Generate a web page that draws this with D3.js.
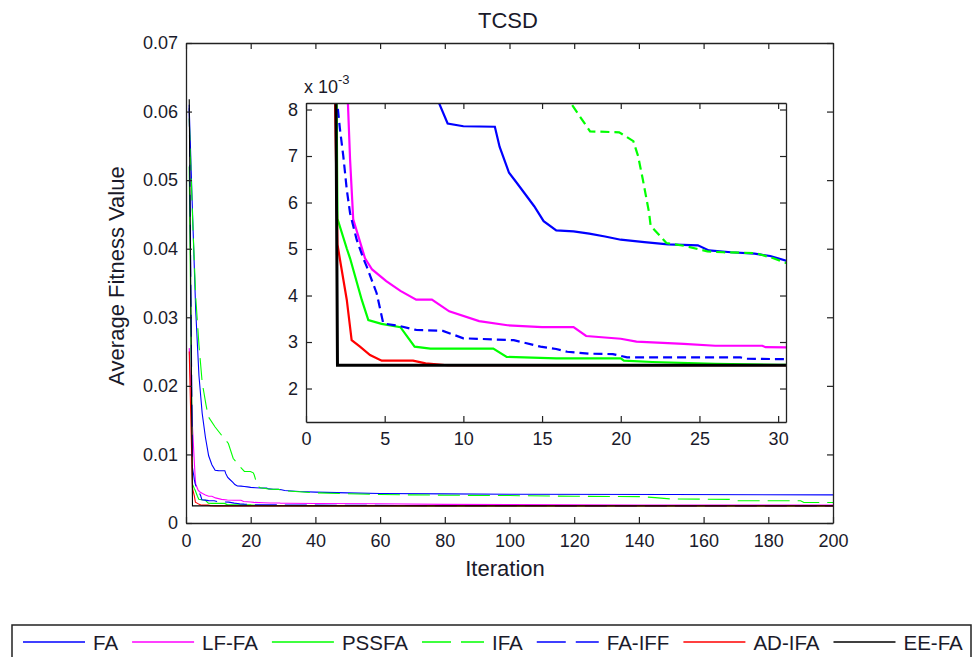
<!DOCTYPE html>
<html>
<head>
<meta charset="utf-8">
<script src="https://cdn.jsdelivr.net/npm/d3@7"></script>
<style>
  body { margin: 0; background: #fff; }
  svg { display: block; font-family: "Liberation Sans", Arial, sans-serif; }
  .axis text { fill: #1a1a2a; }
  .axis path, .axis line { stroke: #222; }
</style>
</head>
<body>
<script>
// values are in units of 1e-3 ([iteration, fitness])
const seriesNames = ['FA', 'LF-FA', 'PSSFA', 'IFA', 'FA-IFF', 'AD-IFA', 'EE-FA'];

const faData = [[1, 60.5], [2, 45.5], [3, 31], [4, 21.5], [5, 16], [6, 12.5], [7, 9.8], [8, 8.5],
  [9, 7.7], [10, 7.64], [12, 7.63], [12.3, 7.2], [12.9, 6.64], [13.4, 6.42], [14.5, 5.92],
  [15.1, 5.6], [15.9, 5.4], [17, 5.38], [18, 5.33], [19, 5.27], [20, 5.2], [21.5, 5.15],
  [23, 5.1], [24.9, 5.08], [25.6, 4.97], [27, 4.93], [28.5, 4.9], [29.5, 4.85], [30.5, 4.75],
  [35, 4.6], [40, 4.5], [50, 4.4], [60, 4.3], [80, 4.25], [100, 4.2], [150, 4.15], [200, 4.1]];

const lffaData = [[1, 25.5], [2, 14], [2.8, 6.93], [3, 5.64], [3.75, 4.8], [4.2, 4.56], [5.1, 4.31],
  [6, 4.1], [7, 3.91], [8, 3.91], [9.1, 3.66], [11, 3.45], [12.8, 3.36], [15, 3.32], [17, 3.32],
  [17.8, 3.13], [20, 3.07], [21, 3.01], [24, 2.96], [26, 2.92], [29, 2.92], [29.2, 2.89],
  [31, 2.88], [40, 2.85], [60, 2.8], [80, 2.72], [100, 2.68], [140, 2.63], [200, 2.6]];

const pssfaData = [[1, 52], [2, 5.65], [2.6, 5.0], [2.8, 4.8], [3.54, 3.91], [3.96, 3.47], [4.8, 3.39],
  [6, 3.32], [6.9, 2.9], [7.9, 2.86], [11.9, 2.86], [12.75, 2.68], [15.9, 2.65], [20, 2.65],
  [20.2, 2.6], [22, 2.57], [26, 2.53], [30, 2.51], [40, 2.5], [200, 2.5]];

const ifaData = [[1, 59], [2, 45], [3, 33], [4, 26], [5, 20.5], [6.2, 17.2], [6.9, 15.5], [9, 14],
  [11, 12.8], [13.1, 11.6], [14.6, 9.4], [16.2, 8.5], [16.9, 8.1], [18.05, 7.53], [19.9, 7.51],
  [20.8, 7.32], [21.1, 7.0], [21.4, 6.5], [21.8, 5.78], [21.9, 5.5], [22.9, 5.13], [24, 5.07],
  [25.5, 4.95], [26.5, 4.93], [28.6, 4.91], [29.7, 4.8], [30.5, 4.7], [40, 4.4], [60, 4.15],
  [80, 4.05], [100, 4.0], [120, 3.9], [140, 3.85], [145, 3.7], [150, 3.5], [168, 3.45],
  [170, 3.25], [190, 3.25], [191, 3.0], [200, 3.0]];

const faiffData = [[1, 61], [2, 8.1], [2.16, 7.57], [2.37, 7.0], [2.59, 6.28], [2.8, 5.77], [3.22, 5.2],
  [3.64, 4.8], [3.86, 4.62], [4.49, 4.05], [4.91, 3.4], [6, 3.34], [7, 3.26], [8.7, 3.24],
  [10, 3.08], [13.2, 3.04], [14.9, 2.9], [15.9, 2.85], [16.6, 2.79], [18, 2.75], [19.5, 2.74],
  [20.4, 2.67], [27.6, 2.67], [28, 2.64], [31, 2.63], [50, 2.58], [80, 2.53], [120, 2.5], [200, 2.5]];

const adifaData = [[1, 25], [2, 5.1], [2.16, 4.77], [2.59, 3.91], [2.9, 3.04], [3.43, 2.9], [4.07, 2.72],
  [4.81, 2.6], [6.8, 2.6], [7.6, 2.54], [9, 2.5], [200, 2.5]];

const eefaData = [[1, 61.8], [2, 2.5], [200, 2.5]];

const mainXTicks = [0, 20, 40, 60, 80, 100, 120, 140, 160, 180, 200];
const mainYTicks = [0, 10, 20, 30, 40, 50, 60, 70];
const insetXTicks = [0, 5, 10, 15, 20, 25, 30];
const insetYTicks = [2, 3, 4, 5, 6, 7, 8];

const colors = ['#0000ff', '#ff00ff', '#00ff00', '#00ff00', '#0000ff', '#ff0000', '#000000'];
const dashed = [false, false, false, true, true, false, false];
const allData = [faData, lffaData, pssfaData, ifaData, faiffData, adifaData, eefaData];

const width = 975;
const height = 657;

const main = { left: 186, right: 833, top: 43, bottom: 523 };
const inset = { left: 306, right: 786, top: 103, bottom: 422 };

const svg = d3.select('body').append('svg')
  .attr('width', width)
  .attr('height', height);

const x = d3.scaleLinear().domain([0, 200]).range([main.left, main.right]);
const y = d3.scaleLinear().domain([0, 70]).range([main.bottom, main.top]);

const xi = d3.scaleLinear().domain([0, 30.5]).range([inset.left, inset.right]);
const yi = d3.scaleLinear().domain([1.28, 8.14]).range([inset.bottom, inset.top]);

const defs = svg.append('defs');
defs.append('clipPath').attr('id', 'clip-main')
  .append('rect')
    .attr('x', main.left).attr('y', main.top)
    .attr('width', main.right - main.left).attr('height', main.bottom - main.top);
defs.append('clipPath').attr('id', 'clip-inset')
  .append('rect')
    .attr('x', inset.left).attr('y', inset.top)
    .attr('width', inset.right - inset.left).attr('height', inset.bottom - inset.top);

// inward ticks on all four sides, labels only bottom and left
function drawAxes(g, sx, sy, xt, yt, fmtY, box, pad) {
  g.append('g').attr('class', 'axis')
    .attr('transform', `translate(0,${box.bottom})`)
    .call(d3.axisBottom(sx).tickValues(xt).tickSize(-6).tickPadding(pad.x).tickSizeOuter(0))
    .call(a => a.selectAll('text').style('font-size', '18px'));
  g.append('g').attr('class', 'axis')
    .attr('transform', `translate(0,${box.top})`)
    .call(d3.axisTop(sx).tickValues(xt).tickSize(-6).tickFormat('').tickSizeOuter(0));
  g.append('g').attr('class', 'axis')
    .attr('transform', `translate(${box.left},0)`)
    .call(d3.axisLeft(sy).tickValues(yt).tickSize(-6).tickPadding(pad.y).tickFormat(fmtY).tickSizeOuter(0))
    .call(a => a.selectAll('text').style('font-size', '18px'));
  g.append('g').attr('class', 'axis')
    .attr('transform', `translate(${box.right},0)`)
    .call(d3.axisRight(sy).tickValues(yt).tickSize(-6).tickFormat('').tickSizeOuter(0));
  g.selectAll('.axis path').attr('stroke-width', 1.3);
  g.selectAll('.axis line').attr('stroke-width', 1.2);
}

const mainG = svg.append('g');
mainG.append('rect')
  .attr('x', main.left).attr('y', main.top)
  .attr('width', main.right - main.left).attr('height', main.bottom - main.top)
  .attr('fill', '#fff');

const lineMain = d3.line().x(d => x(d[0])).y(d => y(d[1]));

mainG.append('g')
  .attr('clip-path', 'url(#clip-main)')
  .selectAll('path')
  .data(allData)
  .join('path')
    .attr('d', lineMain)
    .attr('fill', 'none')
    .attr('stroke', (d, i) => colors[i])
    .attr('stroke-width', 1.1)
    .attr('stroke-dasharray', (d, i) => dashed[i] ? '22,8' : null);

drawAxes(mainG, x, y, mainXTicks, mainYTicks,
  d => d === 0 ? '0' : (d / 1000).toFixed(2), main, { x: 11, y: 8 });

// title and axis labels
svg.append('text')
  .attr('x', 508).attr('y', 28)
  .attr('text-anchor', 'middle')
  .style('font-size', '22px')
  .attr('fill', '#1a1a2a')
  .text('TCSD');

svg.append('text')
  .attr('x', 505).attr('y', 576)
  .attr('text-anchor', 'middle')
  .style('font-size', '22px')
  .attr('fill', '#1a1a2a')
  .text('Iteration');

svg.append('text')
  .attr('transform', 'translate(124,276) rotate(-90)')
  .attr('text-anchor', 'middle')
  .style('font-size', '22px')
  .attr('fill', '#1a1a2a')
  .text('Average Fitness Value');

// inset
const insetG = svg.append('g');
insetG.append('rect')
  .attr('x', inset.left).attr('y', inset.top)
  .attr('width', inset.right - inset.left).attr('height', inset.bottom - inset.top)
  .attr('fill', '#fff');

const lineInset = d3.line().x(d => xi(d[0])).y(d => yi(d[1]));

insetG.append('g')
  .attr('clip-path', 'url(#clip-inset)')
  .selectAll('path')
  .data(allData)
  .join('path')
    .attr('d', lineInset)
    .attr('fill', 'none')
    .attr('stroke', (d, i) => colors[i])
    .attr('stroke-width', (d, i) => i === 6 ? 3 : 2.2)
    .attr('stroke-dasharray', (d, i) => dashed[i] ? '9,5' : null);

drawAxes(insetG, xi, yi, insetXTicks, insetYTicks, d => d, inset, { x: 10, y: 8 });

const expo = svg.append('text')
  .attr('x', 304).attr('y', 93)
  .style('font-size', '18px')
  .attr('fill', '#1a1a2a');
expo.append('tspan').text('x 10');
expo.append('tspan')
  .attr('dy', -9)
  .style('font-size', '13px')
  .text('-3');

// legend
const legendG = svg.append('g');
legendG.append('rect')
  .attr('x', 12).attr('y', 625)
  .attr('width', 959).attr('height', 50)
  .attr('fill', '#fff')
  .attr('stroke', '#222')
  .attr('stroke-width', 1.5);

let lx = 23;
seriesNames.forEach((name, i) => {
  legendG.append('line')
    .attr('x1', lx).attr('x2', lx + 62)
    .attr('y1', 642).attr('y2', 642)
    .attr('stroke', colors[i])
    .attr('stroke-width', 1.3)
    .attr('stroke-dasharray', dashed[i] ? '29,10' : null);
  const t = legendG.append('text')
    .attr('x', lx + 70).attr('y', 650)
    .style('font-size', '20.5px')
    .attr('fill', '#1a1a2a')
    .text(name);
  lx += 70 + t.node().getComputedTextLength() + 14;
});
</script>
</body>
</html>
